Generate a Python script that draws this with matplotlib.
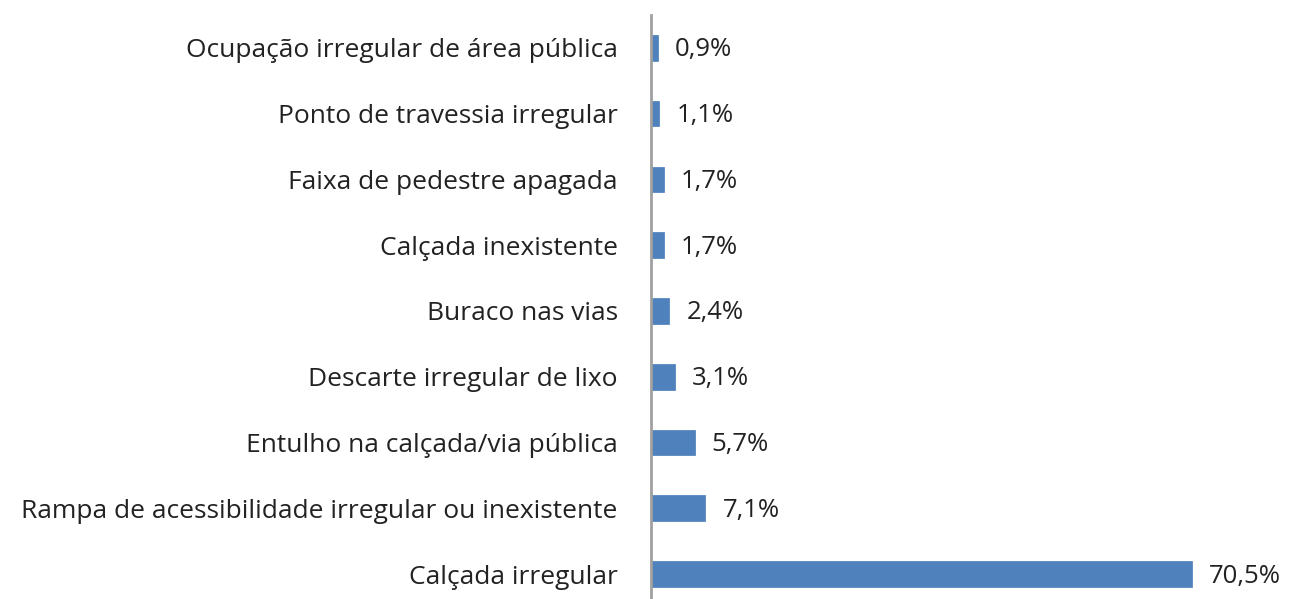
import matplotlib
matplotlib.use("Agg")
import matplotlib.pyplot as plt

categories = [
    "Calçada irregular",
    "Rampa de acessibilidade irregular ou inexistente",
    "Entulho na calçada/via pública",
    "Descarte irregular de lixo",
    "Buraco nas vias",
    "Calçada inexistente",
    "Faixa de pedestre apagada",
    "Ponto de travessia irregular",
    "Ocupação irregular de área pública",
]
values = [70.5, 7.1, 5.7, 3.1, 2.4, 1.7, 1.7, 1.1, 0.9]
value_labels = ["70,5%", "7,1%", "5,7%", "3,1%", "2,4%", "1,7%", "1,7%", "1,1%", "0,9%"]

plt.rcParams['font.family'] = ['Open Sans', 'DejaVu Sans']

W, H = 1290, 599
fig = plt.figure(figsize=(W / 100, H / 100), dpi=100)
ax = fig.add_axes([651 / W, 0, (1288 - 651) / W, (599 - 15) / H])

pos = list(range(len(categories)))
ax.barh(pos, values, height=0.39, color="#4F81BD", edgecolor="#4A7DBA", linewidth=0.5)

for p, v, lab in zip(pos, values, value_labels):
    ax.annotate(lab, xy=(v, p), xytext=(17, -2), textcoords="offset pixels",
                ha="left", va="center", fontsize=18.5, color="#222222")

ax.set_xlim(0, 83)
ax.set_ylim(-0.38, 8.5)
ax.set_yticks(pos)
ax.set_yticklabels(categories, fontsize=19, color="#222222")
ax.tick_params(axis="y", length=0, pad=24)
ax.set_xticks([])
for s in ["top", "right", "bottom"]:
    ax.spines[s].set_visible(False)
ax.spines["left"].set_color("#A0A0A0")
ax.spines["left"].set_linewidth(2)

fig.savefig("out.png", dpi=100)
